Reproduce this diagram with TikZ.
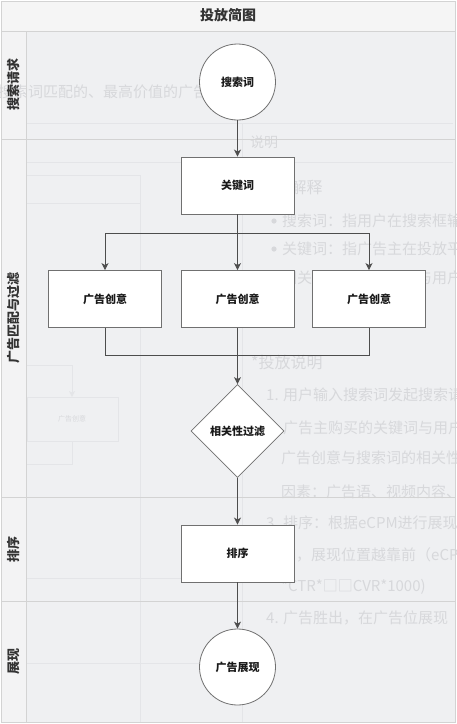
\documentclass[tikz,border=0pt]{standalone}
\usepackage{fontspec}
\setmainfont{Noto Sans CJK SC}
\usetikzlibrary{shapes.geometric,arrows.meta}
\definecolor{lanebg}{HTML}{EFF0F2}
\definecolor{labelbg}{HTML}{F3F3F4}
\definecolor{titlebg}{HTML}{F5F5F5}
\definecolor{laneline}{HTML}{D3D3D3}
\definecolor{ghost}{HTML}{D7D8DB}
\definecolor{ghostline}{HTML}{E4E5E8}
\definecolor{edgecol}{HTML}{4D4D4D}
\definecolor{nodeline}{HTML}{707070}
\tikzset{
  procbox/.style={draw=nodeline, fill=white, line width=0.9pt, minimum width=113pt, minimum height=57pt, inner sep=0pt, font=\fontsize{11}{13}\selectfont\bfseries, text=black!90},
  termcirc/.style={circle, draw=nodeline, fill=white, line width=0.8pt, minimum size=76pt, inner sep=0pt, font=\fontsize{11}{13}\selectfont\bfseries, text=black!90},
  decision/.style={diamond, draw=nodeline, fill=white, line width=0.8pt, minimum width=93pt, minimum height=93pt, inner sep=0pt, font=\fontsize{11}{13}\selectfont\bfseries, text=black!90},
  flow/.style={draw=edgecol, line width=0.8pt},
  arr/.style={flow, -{Stealth[length=7pt,width=7pt,inset=2pt]}},
  lanelabel/.style={rotate=90, inner sep=0pt, font=\fontsize{13}{15}\selectfont\bfseries, text=black!80},
  ghosttext/.style={anchor=west, inner sep=0pt, text=ghost, font=\fontsize{15}{17}\selectfont},
  ghostbig/.style={anchor=west, inner sep=0pt, text=ghost, font=\fontsize{16}{18}\selectfont},
  ghostrule/.style={draw=ghostline, line width=0.6pt},
}
\begin{document}
\begin{tikzpicture}[x=1pt,y=-1pt]
\useasboundingbox (0,0) rectangle (456,724);
\fill[white] (0,0) rectangle (456,724);
% backgrounds
\fill[titlebg] (1,1) rectangle (455,31);
\fill[labelbg] (1,31) rectangle (26,722);
\fill[lanebg] (26,31) rectangle (455,722);
% faint background layer
\draw[ghostrule] (27,123) -- (453,123);
\draw[ghostrule] (27,162) -- (453,162);
\draw[ghostrule] (27,175) -- (140,175);
\draw[ghostrule] (27,203) -- (140,203);
\draw[ghostrule] (140,175) -- (140,722);
\draw[ghostrule] (242,123) -- (242,722);
\draw[ghostrule] (27,578) -- (242,578);
\draw[ghostrule] (27,663) -- (242,663);
\draw[ghostrule] (27,365) -| (72,393);
\fill[ghostline] (72,397) -- (69,391) -- (72,392.5) -- (75,391) -- cycle;
\draw[ghostrule] (27,397) rectangle (118,441);
\draw[ghostrule] (72,441) |- (27,464);
\node[inner sep=0pt, text=ghost, font=\fontsize{7}{8}\selectfont] (gbox) at (72,419) {广告创意};
\node[ghosttext] (g0) at (-2,92) {搜索词匹配的、最高价值的广告};
\node[anchor=west, inner sep=0pt, text=ghost, font=\fontsize{14}{16}\selectfont] (g1) at (250,142) {说明};
\node[ghostbig] (g2) at (251,187) {*名词解释};
\fill[ghost] (274,221) circle (2.6);
\node[ghosttext] (g3) at (282,221) {搜索词：指用户在搜索框输入};
\fill[ghost] (274,249) circle (2.6);
\node[ghosttext] (g4) at (282,249) {关键词：指广告主在投放平台};
\node[ghosttext] (g5) at (282,278) {相关性：指广告内容与用户};
\node[ghostbig] (g6) at (251,362) {*投放说明};
\node[ghosttext] (g7) at (266,395) {1. 用户输入搜索词发起搜索请求};
\node[ghosttext] (g8) at (266,428) {2. 广告主购买的关键词与用户};
\node[ghosttext] (g9) at (281,458) {广告创意与搜索词的相关性};
\node[ghosttext] (g10) at (281,492) {因素：广告语、视频内容、};
\node[ghosttext] (g11) at (266,523) {3. 排序：根据eCPM进行展现};
\node[ghosttext] (g12) at (281,555) {高，展现位置越靠前（eCPM};
\node[ghosttext] (g13) at (281,587) {*CTR*□□CVR*1000)};
\node[ghosttext] (g14) at (266,618) {4. 广告胜出，在广告位展现};
% lane frame
\draw[laneline, line width=1pt] (1,1) rectangle (455,722);
\draw[laneline, line width=1pt] (1,31) -- (455,31);
\draw[laneline, line width=1pt] (1,139) -- (455,139);
\draw[laneline, line width=1pt] (1,497) -- (455,497);
\draw[laneline, line width=1pt] (1,601) -- (455,601);
\draw[laneline, line width=1pt] (26,31) -- (26,722);
% title and lane labels
\node[font=\fontsize{14}{16}\selectfont\bfseries, text=black!80] (title) at (228,15) {投放简图};
\node[lanelabel] (l1) at (14,84) {搜索请求};
\node[lanelabel] (l2) at (14,318) {广告匹配与过滤};
\node[lanelabel] (l3) at (14,549) {排序};
\node[lanelabel] (l4) at (14,661) {展现};
% flow nodes
\node[termcirc] (q) at (237.5,82) {搜索词};
\node[procbox] (k) at (237.5,185.5) {关键词};
\node[procbox] (c1) at (105,299) {广告创意};
\node[procbox] (c2) at (237.5,299) {广告创意};
\node[procbox] (c3) at (369,299) {广告创意};
\node[decision] (d) at (237.5,431) {相关性过滤};
\node[procbox] (s) at (237.5,553.5) {排序};
\node[termcirc] (e) at (237.5,667) {广告展现};
% connectors
\coordinate (fork) at (237.5,233);
\coordinate (merge) at (237.5,355);
\draw[arr] (q) -- (k);
\draw[arr] (k) -- (c2);
\draw[arr] (fork) -| (c1);
\draw[arr] (fork) -| (c3);
\draw[flow] (c1) |- (merge);
\draw[flow] (c3) |- (merge);
\draw[arr] (c2) -- (d);
\draw[arr] (d) -- (s);
\draw[arr] (s) -- (e);
\end{tikzpicture}
\end{document}
